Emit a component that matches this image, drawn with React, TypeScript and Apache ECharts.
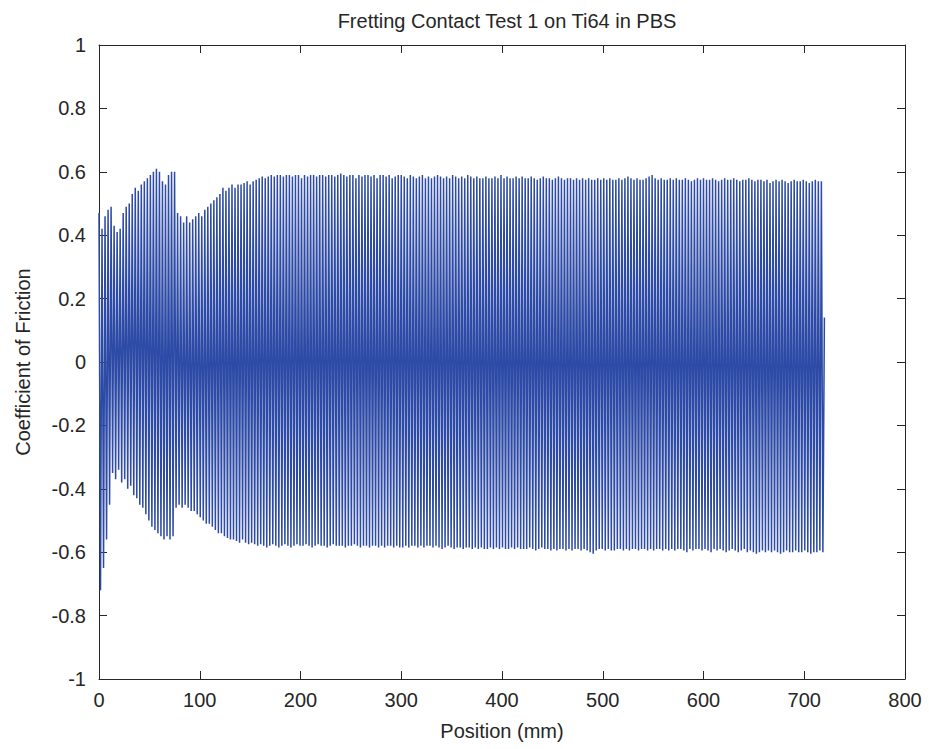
import React, { useEffect, useRef } from "react";
import * as echarts from "echarts";

// One fretting cycle every 3 mm: peak of cycle k at 3k mm, trough at 3k+1.5 mm
const cyclePitch = 3;
const peaks: number[] = [
  0.47, 0.42, 0.46, 0.48, 0.49, 0.43, 0.41, 0.42, 0.47, 0.49,
  0.50, 0.53, 0.55, 0.54, 0.56, 0.57, 0.58, 0.59, 0.60, 0.61,
  0.60, 0.57, 0.56, 0.59, 0.60, 0.60, 0.47, 0.46, 0.44, 0.46,
  0.44, 0.45, 0.46, 0.47, 0.46, 0.48, 0.49, 0.50, 0.51, 0.52,
  0.53, 0.55, 0.54, 0.55, 0.56, 0.55, 0.56, 0.56, 0.565, 0.57,
  0.56, 0.57, 0.575, 0.58, 0.585, 0.58, 0.585, 0.59, 0.585, 0.59,
  0.59, 0.585, 0.59, 0.59, 0.585, 0.59, 0.59, 0.58, 0.59, 0.585,
  0.59, 0.59, 0.585, 0.59, 0.59, 0.585, 0.59, 0.59, 0.585, 0.59,
  0.595, 0.59, 0.585, 0.59, 0.59, 0.58, 0.59, 0.585, 0.59, 0.59,
  0.585, 0.59, 0.58, 0.59, 0.59, 0.585, 0.59, 0.58, 0.585, 0.59,
  0.59, 0.585, 0.58, 0.59, 0.585, 0.58, 0.585, 0.59, 0.58, 0.585,
  0.58, 0.585, 0.59, 0.585, 0.58, 0.585, 0.58, 0.59, 0.585, 0.58,
  0.585, 0.58, 0.59, 0.585, 0.58, 0.585, 0.58, 0.58, 0.585, 0.58,
  0.58, 0.585, 0.58, 0.59, 0.58, 0.585, 0.58, 0.58, 0.585, 0.58,
  0.585, 0.58, 0.58, 0.585, 0.58, 0.575, 0.58, 0.585, 0.58, 0.58,
  0.575, 0.58, 0.585, 0.58, 0.575, 0.58, 0.58, 0.575, 0.58, 0.575,
  0.58, 0.575, 0.58, 0.575, 0.575, 0.58, 0.575, 0.58, 0.575, 0.58,
  0.575, 0.575, 0.58, 0.575, 0.58, 0.585, 0.58, 0.575, 0.58, 0.575,
  0.575, 0.58, 0.585, 0.59, 0.58, 0.575, 0.58, 0.575, 0.575, 0.58,
  0.575, 0.58, 0.575, 0.575, 0.58, 0.575, 0.57, 0.575, 0.58, 0.575,
  0.58, 0.575, 0.575, 0.58, 0.575, 0.57, 0.575, 0.58, 0.575, 0.575,
  0.58, 0.575, 0.57, 0.575, 0.575, 0.58, 0.575, 0.57, 0.575, 0.575,
  0.57, 0.575, 0.565, 0.57, 0.575, 0.57, 0.575, 0.57, 0.565, 0.57,
  0.575, 0.57, 0.57, 0.575, 0.57, 0.565, 0.57, 0.575, 0.57, 0.57,
];
const troughs: number[] = [
  -0.72, -0.65, -0.56, -0.45, -0.35, -0.37, -0.34, -0.38, -0.37, -0.40,
  -0.39, -0.42, -0.43, -0.45, -0.46, -0.48, -0.50, -0.52, -0.53, -0.54,
  -0.55, -0.56, -0.55, -0.56, -0.55, -0.46, -0.45, -0.46, -0.45, -0.46,
  -0.47, -0.47, -0.48, -0.49, -0.50, -0.51, -0.51, -0.52, -0.53, -0.54,
  -0.54, -0.55, -0.555, -0.56, -0.56, -0.565, -0.57, -0.56, -0.57, -0.575,
  -0.57, -0.575, -0.58, -0.575, -0.58, -0.585, -0.58, -0.575, -0.58, -0.585,
  -0.58, -0.575, -0.58, -0.585, -0.58, -0.575, -0.58, -0.58, -0.575, -0.58,
  -0.585, -0.58, -0.575, -0.58, -0.58, -0.585, -0.58, -0.575, -0.58, -0.58,
  -0.58, -0.585, -0.58, -0.58, -0.575, -0.58, -0.585, -0.58, -0.58, -0.585,
  -0.58, -0.58, -0.585, -0.58, -0.585, -0.58, -0.58, -0.585, -0.58, -0.585,
  -0.585, -0.58, -0.585, -0.58, -0.58, -0.585, -0.58, -0.585, -0.58, -0.58,
  -0.585, -0.58, -0.585, -0.59, -0.585, -0.58, -0.585, -0.59, -0.585, -0.585,
  -0.59, -0.585, -0.585, -0.59, -0.585, -0.59, -0.585, -0.59, -0.59, -0.585,
  -0.59, -0.585, -0.59, -0.585, -0.59, -0.59, -0.585, -0.59, -0.585, -0.59,
  -0.59, -0.59, -0.585, -0.59, -0.595, -0.59, -0.585, -0.59, -0.59, -0.595,
  -0.59, -0.595, -0.59, -0.59, -0.595, -0.59, -0.595, -0.59, -0.59, -0.595,
  -0.59, -0.595, -0.60, -0.605, -0.595, -0.59, -0.59, -0.595, -0.59, -0.595,
  -0.595, -0.59, -0.59, -0.595, -0.59, -0.595, -0.59, -0.59, -0.595, -0.59,
  -0.59, -0.595, -0.59, -0.595, -0.59, -0.59, -0.595, -0.59, -0.595, -0.59,
  -0.595, -0.59, -0.59, -0.595, -0.60, -0.59, -0.595, -0.59, -0.59, -0.595,
  -0.59, -0.595, -0.60, -0.59, -0.595, -0.59, -0.595, -0.60, -0.595, -0.59,
  -0.595, -0.60, -0.595, -0.59, -0.60, -0.595, -0.60, -0.605, -0.60, -0.595,
  -0.60, -0.595, -0.60, -0.595, -0.60, -0.605, -0.60, -0.595, -0.60, -0.60,
  -0.595, -0.60, -0.60, -0.595, -0.60, -0.605, -0.60, -0.60, -0.595, -0.60,
];
const endPoint: [number, number] = [720, 0.14];

const titleText = "Fretting Contact Test 1 on Ti64 in PBS";
const xName = "Position (mm)";
const yName = "Coefficient of Friction";

export default function App() {
  const ref = useRef<HTMLDivElement>(null);
  useEffect(() => {
    if (!ref.current) return;
    const chart = echarts.init(ref.current, undefined, { renderer: "svg" });
    const data: [number, number][] = [];
    peaks.forEach((p, k) => {
      data.push([k * cyclePitch, p]);
      data.push([k * cyclePitch + cyclePitch / 2, troughs[k]]);
    });
    data.push(endPoint);

    const font = "Liberation Sans, Arial, sans-serif";
    const axisColor = "#262626";
    const yFmt = (v: number) => String(Number(v.toFixed(1)));
    const common = {
      axisLine: { show: true, onZero: false, lineStyle: { color: axisColor, width: 1 } },
      axisTick: { show: true, inside: true, length: 8, lineStyle: { color: axisColor } },
      splitLine: { show: false },
    };
    chart.setOption({
      animation: false,
      backgroundColor: "#ffffff",
      title: {
        text: titleText,
        left: 502,
        textAlign: "center",
        top: 6,
        textStyle: { fontFamily: font, fontSize: 20, fontWeight: "normal", color: "#262626" },
      },
      grid: { left: 99, right: 24, top: 45, bottom: 70, containLabel: false },
      xAxis: [
        {
          type: "value", min: 0, max: 800, interval: 100, position: "bottom",
          name: xName, nameLocation: "middle", nameGap: 42,
          nameTextStyle: { fontFamily: font, fontSize: 20, color: axisColor },
          axisLabel: { fontFamily: font, fontSize: 20, color: axisColor, margin: 11 },
          ...common,
        },
        {
          type: "value", min: 0, max: 800, interval: 100, position: "top",
          axisLabel: { show: false },
          ...common,
        },
      ],
      yAxis: [
        {
          type: "value", min: -1, max: 1, interval: 0.2, position: "left",
          name: yName, nameLocation: "middle", nameGap: 66,
          nameTextStyle: { fontFamily: font, fontSize: 20, color: axisColor },
          axisLabel: { fontFamily: font, fontSize: 20, color: axisColor, margin: 13, formatter: yFmt },
          ...common,
        },
        {
          type: "value", min: -1, max: 1, interval: 0.2, position: "right",
          axisLabel: { show: false },
          ...common,
        },
      ],
      series: [
        {
          type: "line",
          data,
          showSymbol: false,
          symbol: "none",
          lineStyle: { color: "#2c4aa6", width: 1.5 },
          xAxisIndex: 0,
          yAxisIndex: 0,
          silent: true,
        },
      ],
    });
    return () => chart.dispose();
  }, []);
  return (
    <div
      ref={ref}
      style={{ position: "absolute", left: 0, top: 0, width: 929, height: 749 }}
    />
  );
}
